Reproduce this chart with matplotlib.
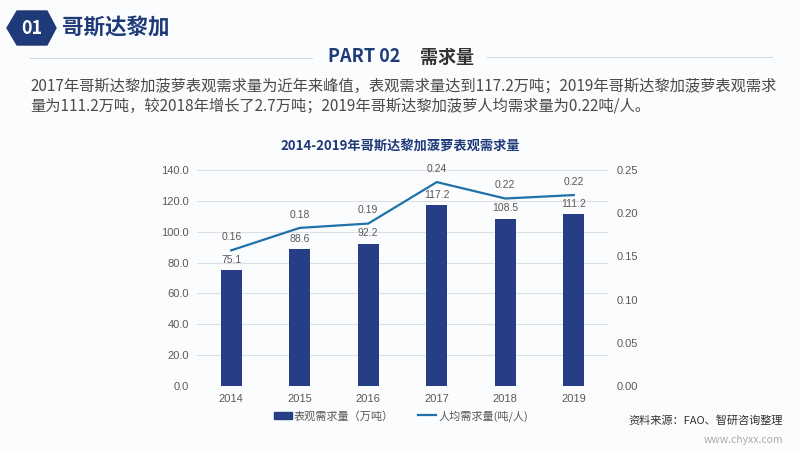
import matplotlib
matplotlib.use("Agg")
import matplotlib.pyplot as plt
import matplotlib.patches as mpatches
from matplotlib.lines import Line2D

plt.rcParams['font.family'] = ['Noto Sans CJK SC', 'DejaVu Sans']

years = ['2014', '2015', '2016', '2017', '2018', '2019']
demand = [75.1, 88.6, 92.2, 117.2, 108.5, 111.2]
per_capita = [0.157, 0.183, 0.188, 0.236, 0.217, 0.221]
per_capita_labels = ['0.16', '0.18', '0.19', '0.24', '0.22', '0.22']

header = '哥斯达黎加'
section = '需求量'
body_1 = '2017年哥斯达黎加菠萝表观需求量为近年来峰值，表观需求量达到117.2万吨；2019年哥斯达黎加菠萝表观需求'
body_2 = '量为111.2万吨，较2018年增长了2.7万吨；2019年哥斯达黎加菠萝人均需求量为0.22吨/人。'
chart_title = '2014-2019年哥斯达黎加菠萝表观需求量'
bar_name = '表观需求量（万吨）'
line_name = '人均需求量(吨/人)'
source = '资料来源：FAO、智研咨询整理'

navy = '#1f3a78'
bar_color = '#253e85'
line_color = '#1f72a8'
tick_color = '#595959'
num_font = ['Liberation Sans', 'DejaVu Sans']

W, H = 800, 450
fig = plt.figure(figsize=(8, 4.5), dpi=100)
fig.patch.set_facecolor('#fbfcfe')

def fx(x):
    return x / W

def fy(y):
    return 1 - y / H

# header badge
hexagon = mpatches.Polygon(
    [(fx(7), fy(28)), (fx(17), fy(11)), (fx(47), fy(11)),
     (fx(56), fy(28)), (fx(47), fy(45)), (fx(17), fy(45))],
    closed=True, transform=fig.transFigure, color=navy)
fig.patches.append(hexagon)
fig.text(fx(32), fy(28), '01', color='white', fontsize=13, fontweight='bold',
         ha='center', va='center')
fig.text(fx(62), fy(28), header, color=navy, fontsize=15.5, fontweight='bold',
         ha='left', va='center')

# section title with rules
fig.add_artist(Line2D([fx(30), fx(312)], [fy(58), fy(58)], color='#d5d9e0', lw=0.8))
fig.add_artist(Line2D([fx(487), fx(772)], [fy(57), fy(57)], color='#d5d9e0', lw=0.8))
fig.text(fx(328), fy(57), 'PART 02', color=navy, fontsize=13, fontweight='bold',
         ha='left', va='center')
fig.text(fx(420), fy(57), section, color='#333333', fontsize=13, fontweight='bold',
         ha='left', va='center')

fig.text(fx(30), fy(86), body_1, color='#4a4a4a', fontsize=11, ha='left', va='center')
fig.text(fx(30), fy(106), body_2, color='#4a4a4a', fontsize=11, ha='left', va='center')

fig.text(fx(400), fy(146), chart_title, color=navy, fontsize=9.5, fontweight='bold',
         ha='center', va='center')

# chart
ax = fig.add_axes([fx(197), fy(386), fx(608 - 197), (386 - 170) / H])
ax.set_facecolor('none')
x = list(range(len(years)))
ax.bar(x, demand, width=0.31, color=bar_color, zorder=3)
for xi, v in zip(x, demand):
    ax.annotate(f'{v:.1f}', (xi, v), xytext=(0, 4), textcoords='offset points',
                ha='center', va='bottom', fontsize=7.5, color=tick_color,
                family=num_font)
ax.set_ylim(0, 140)
ax.set_yticks(range(0, 141, 20))
ax.set_yticklabels([f'{v:.1f}' for v in range(0, 141, 20)], family=num_font)
ax.set_xlim(-0.5, 5.5)
ax.set_xticks(x)
ax.set_xticklabels(years, family=num_font)
ax.grid(axis='y', color='#dcdfe4', lw=0.8, zorder=0)
ax.tick_params(length=0, labelsize=8, labelcolor=tick_color, pad=6)
for s in ax.spines.values():
    s.set_visible(False)

ax2 = ax.twinx()
ax2.plot(x, per_capita, color=line_color, lw=1.6, zorder=4)
for xi, v, lab in zip(x, per_capita, per_capita_labels):
    ax2.annotate(lab, (xi, v), xytext=(0, 6), textcoords='offset points',
                 ha='center', va='bottom', fontsize=7.5, color=tick_color,
                 family=num_font)
ax2.set_ylim(0, 0.25)
ax2.set_yticks([0, 0.05, 0.10, 0.15, 0.20, 0.25])
ax2.set_yticklabels(['0.00', '0.05', '0.10', '0.15', '0.20', '0.25'], family=num_font)
ax2.tick_params(length=0, labelsize=8, labelcolor=tick_color, pad=6)
for s in ax2.spines.values():
    s.set_visible(False)

handles = [mpatches.Patch(color=bar_color, label=bar_name),
           Line2D([0], [0], color=line_color, lw=1.6, label=line_name)]
fig.legend(handles=handles, loc='center', bbox_to_anchor=(fx(401), fy(416)),
           ncol=2, frameon=False, fontsize=8, handlelength=1.6,
           handletextpad=0.2, columnspacing=2.2, labelcolor=tick_color)

fig.text(fx(783), fy(421), source, color='#333333', fontsize=8, ha='right', va='center')
fig.text(fx(783), fy(440), 'www.chyxx.com', color='#aaaaaa', fontsize=7.5,
         ha='right', va='center')

fig.savefig('out.png', dpi=100, facecolor=fig.get_facecolor())
